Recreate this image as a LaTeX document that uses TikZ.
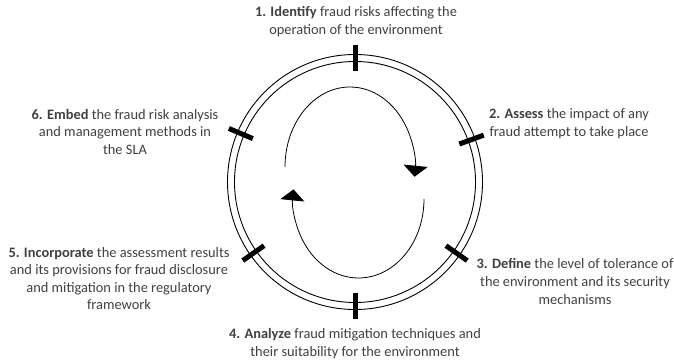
\documentclass[tikz,border=0pt]{standalone}
\usepackage{fontspec}
\setmainfont{Carlito}
\usetikzlibrary{positioning}
\usetikzlibrary{arrows.meta, calc}

\definecolor{txtgray}{HTML}{404040}
\tikzset{
	steptext/.style={align=center, text=txtgray, font=\fontsize{14.4}{17.6}\selectfont, inner sep=0pt},
	ring/.style={draw=black, line width=0.9pt},
	tick/.style={line width=5pt, black},
	loop/.style={line width=0.8pt, -{Triangle[width=24pt,length=11pt]}}
}

\begin{document}
\begin{tikzpicture}[x=1pt,y=1pt]
		\useasboundingbox (0,0) rectangle (674,359);
		\coordinate (C) at (355,177);
		% double ring
		\draw [ring] (C) circle (127.5);
		\draw [ring] (C) circle (120.5);
		% ticks on the ring
		\foreach \a in {90,20,-35,-90,-145,157}
			\draw [tick] ($(C)+(\a:111)$) -- ($(C)+(\a:137)$);
		% the two turning arrows
		\draw [loop] (285,192) arc [start angle=180, end angle=-7, x radius=65, y radius=80];
		\draw [loop] (424,160) arc [start angle=0, end angle=-187, x radius=65.5, y radius=79];
		% the steps
		\node [steptext] (S1) at (356,337.5) {\textbf{1. Identify} fraud risks affecting the\\operation of the environment};
		\node [steptext] (S2) at (569,235.5) {\textbf{2. Assess} the impact of any\\fraud attempt to take place};
		\node [steptext] (S3) at (575,77.5) {\textbf{3. Define} the level of tolerance of\\the environment and its security\\mechanisms};
		\node [steptext] (S4) at (355,15.5) {\textbf{4. Analyze} fraud mitigation techniques and\\their suitability for the environment};
		\node [steptext] (S5) at (119,80.5) {\textbf{5. Incorporate} the assessment results\\and its provisions for fraud disclosure\\and mitigation in the regulatory\\framework};
		\node [steptext] (S6) at (125,227) {\textbf{6. Embed} the fraud risk analysis\\and management methods in\\the SLA};
	\end{tikzpicture}
\end{document}
